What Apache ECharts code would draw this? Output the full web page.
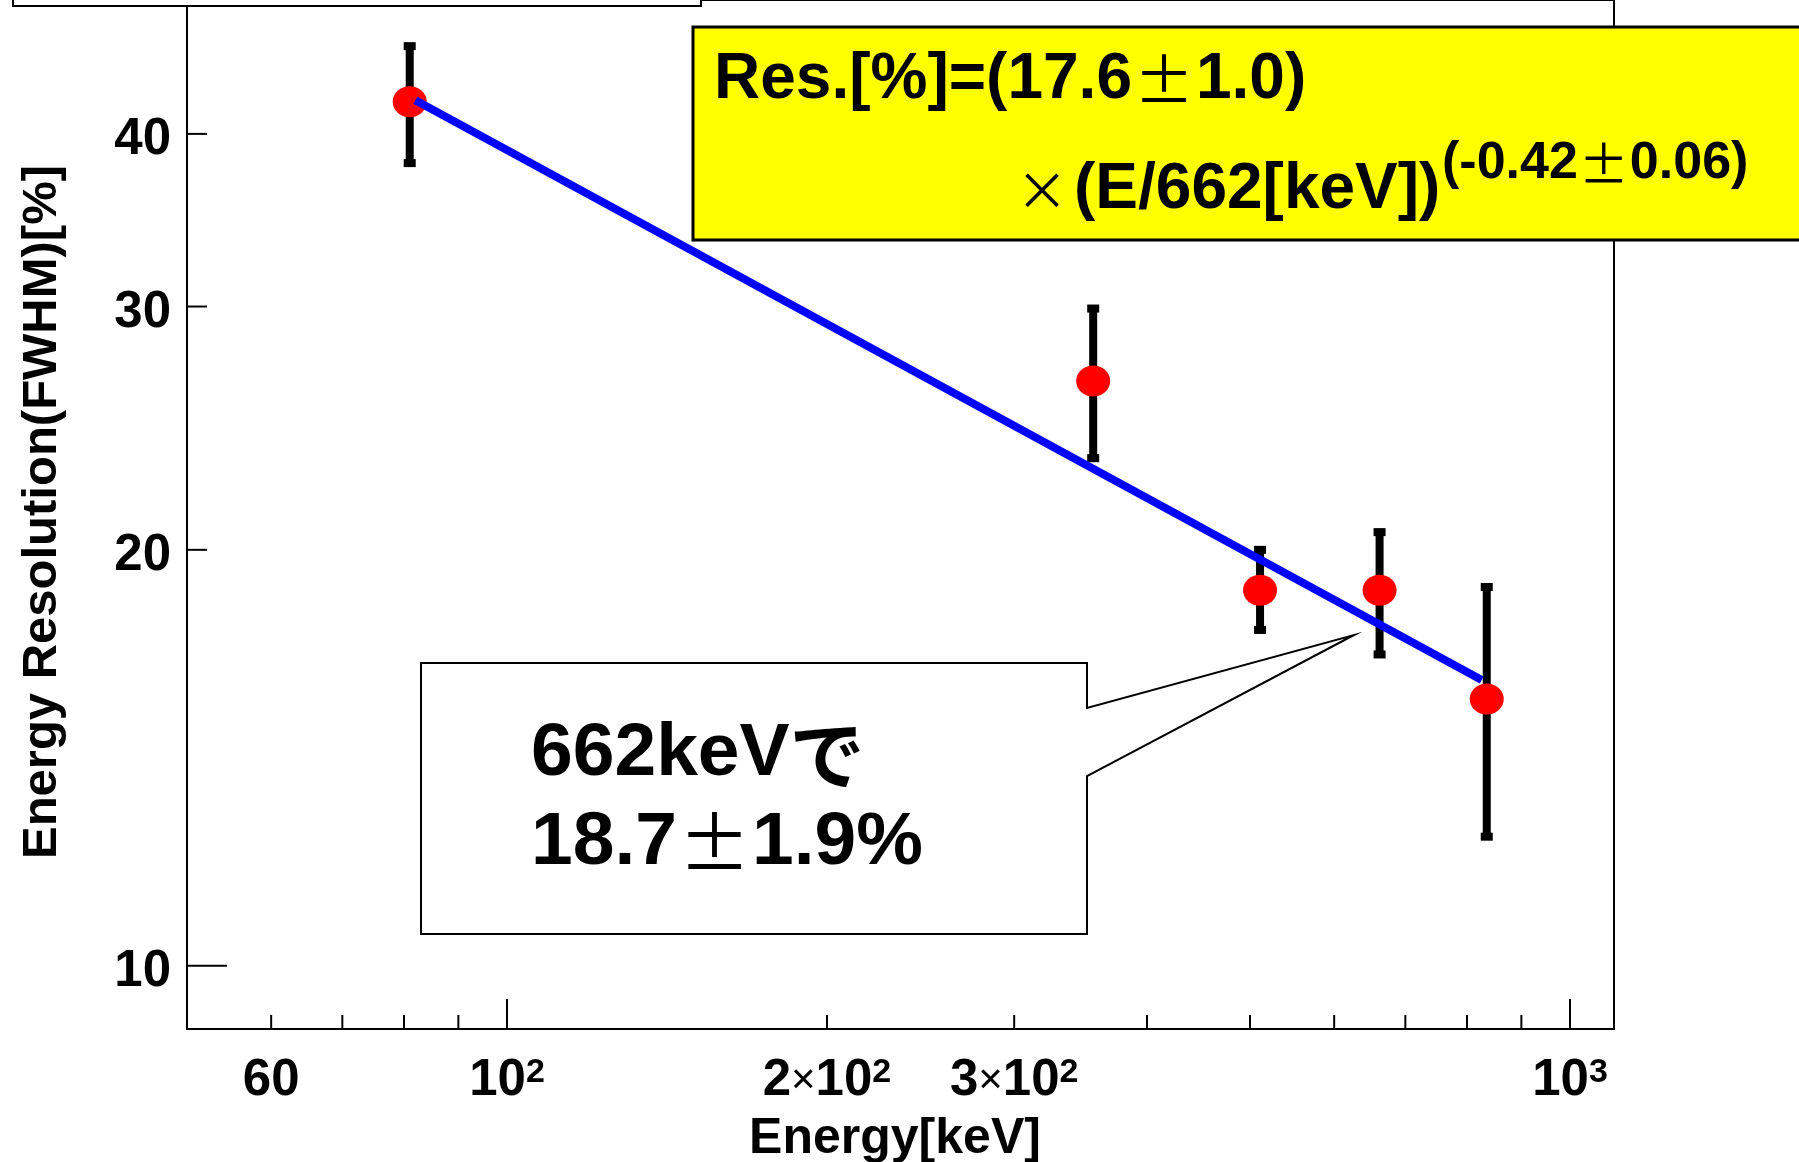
<!DOCTYPE html>
<html>
<head>
<meta charset="utf-8">
<title>Energy Resolution vs Energy</title>
<script src="https://cdn.jsdelivr.net/npm/echarts@6/dist/echarts.min.js"></script>
<style>
  html, body { margin: 0; padding: 0; background: #ffffff; }
  #chart { width: 1799px; height: 1162px; }
</style>
</head>
<body>
<div id="chart"></div>
<script>
// Measured energy resolution (FWHM) at each gamma line, with error bar ends
const energies   = [81, 356, 511, 662, 835];
const resolution = [42.2, 26.5, 18.7, 18.7, 15.6];
const errLow     = [38.1, 23.3, 17.5, 16.8, 12.4];
const errHigh    = [46.3, 29.9, 20.0, 20.6, 18.8];

// Power-law fit, drawn as a straight segment on log-log axes
const fitEnergy     = [82, 826];
const fitResolution = [42.3, 16.1];

// Axis ranges and ticks
const xRange = [50, 1100];
const yRange = [9, 50];
const xMajorTicks = [100, 1000];
const xMinorTicks = [60, 70, 80, 90, 200, 300, 400, 500, 600, 700, 800, 900];
const xLabelValues = [60, 100, 200, 300, 1000];
const xLabelTexts = ['{b|60}', '{b|10}{s|2}', '{b|2}{x|×}{b|10}{s|2}', '{b|3}{x|×}{b|10}{s|2}', '{b|10}{s|3}'];
const yMajorTicks = [10];
const yMinorTicks = [20, 30, 40];
const yLabelValues = [10, 20, 30, 40];
const yLabelTexts = ['10', '20', '30', '40'];

const FONT = "'Liberation Sans', Arial, Helvetica, sans-serif";
const CJK = "'Noto Sans CJK JP', 'Noto Sans CJK SC', sans-serif";

const chart = echarts.init(document.getElementById('chart'), null, { renderer: 'canvas' });

function xTick(len) {
  return function (params, api) {
    const p = api.coord([api.value(0), yRange[0]]);
    return { type: 'line', shape: { x1: p[0], y1: p[1], x2: p[0], y2: p[1] - len },
             style: { stroke: '#000', lineWidth: 2 } };
  };
}
function yTick(len) {
  return function (params, api) {
    const p = api.coord([xRange[0], api.value(1)]);
    return { type: 'line', shape: { x1: p[0], y1: p[1], x2: p[0] + len, y2: p[1] },
             style: { stroke: '#000', lineWidth: 2 } };
  };
}

const tickRich = {
  b: { fontFamily: FONT, fontWeight: 'bold', fontSize: 51, lineHeight: 51, fill: '#000' },
  s: { fontFamily: FONT, fontWeight: 'bold', fontSize: 34, lineHeight: 18, verticalAlign: 'top', fill: '#000' },
  x: { fontFamily: FONT, fontWeight: 'normal', fontSize: 42, lineHeight: 51, fill: '#000' }
};

// thin-stroked symbols (± and ×) set in a full-width cell
function symRich(size, glyph) {
  return { fontFamily: CJK, fontWeight: 'normal', fontSize: glyph, width: size, align: 'center', fill: '#000' };
}

const option = {
  backgroundColor: '#ffffff',
  animation: false,
  grid: { left: 187, right: 185, top: -5, bottom: 133, show: true,
          borderColor: '#000', borderWidth: 2, backgroundColor: 'transparent' },
  xAxis: { type: 'log', logBase: 10, min: xRange[0], max: xRange[1],
           axisLine: { show: false }, axisTick: { show: false },
           axisLabel: { show: false }, splitLine: { show: false } },
  yAxis: { type: 'log', logBase: 10, min: yRange[0], max: yRange[1],
           axisLine: { show: false }, axisTick: { show: false },
           axisLabel: { show: false }, splitLine: { show: false } },
  series: [
    { type: 'custom', name: 'xMajor', silent: true, z: 1,
      data: xMajorTicks.map(v => [v, yRange[0]]), renderItem: xTick(30) },
    { type: 'custom', name: 'xMinor', silent: true, z: 1,
      data: xMinorTicks.map(v => [v, yRange[0]]), renderItem: xTick(14) },
    { type: 'custom', name: 'yMajor', silent: true, z: 1,
      data: yMajorTicks.map(v => [xRange[0], v]), renderItem: yTick(40) },
    { type: 'custom', name: 'yMinor', silent: true, z: 1,
      data: yMinorTicks.map(v => [xRange[0], v]), renderItem: yTick(20) },
    { type: 'custom', name: 'xLabels', silent: true, z: 1,
      data: xLabelValues.map(v => [v, yRange[0]]),
      renderItem: function (params, api) {
        const p = api.coord([api.value(0), yRange[0]]);
        return { type: 'text', x: p[0], y: p[1] + 52,
                 style: { text: xLabelTexts[params.dataIndex], rich: tickRich,
                          align: 'center', verticalAlign: 'middle', fill: '#000' } };
      } },
    { type: 'custom', name: 'yLabels', silent: true, z: 1,
      data: yLabelValues.map(v => [xRange[0], v]),
      renderItem: function (params, api) {
        const p = api.coord([xRange[0], api.value(1)]);
        return { type: 'text', x: p[0] - 16, y: p[1] + 6,
                 style: { text: yLabelTexts[params.dataIndex],
                          font: 'bold 51px ' + FONT,
                          align: 'right', verticalAlign: 'middle', fill: '#000' } };
      } },
    { type: 'custom', name: 'errors', silent: true, z: 2,
      data: energies.map((e, i) => [e, errLow[i], errHigh[i]]),
      encode: { x: 0, y: [1, 2] },
      renderItem: function (params, api) {
        const top = api.coord([api.value(0), api.value(2)]);
        const bot = api.coord([api.value(0), api.value(1)]);
        const w = 8, cw = 12, ch = 8;
        return { type: 'group', children: [
          { type: 'rect', shape: { x: top[0] - w / 2, y: top[1], width: w, height: bot[1] - top[1] },
            style: { fill: '#000' } },
          { type: 'rect', shape: { x: top[0] - cw / 2, y: top[1] - ch / 2, width: cw, height: ch },
            style: { fill: '#000' } },
          { type: 'rect', shape: { x: bot[0] - cw / 2, y: bot[1] - ch / 2, width: cw, height: ch },
            style: { fill: '#000' } }
        ] };
      } },
    { type: 'scatter', name: 'data', z: 3, symbol: 'circle', symbolSize: [34, 31],
      itemStyle: { color: '#ff0000', opacity: 1 },
      data: energies.map((e, i) => [e, resolution[i]]) },
    { type: 'line', name: 'fit', z: 4, showSymbol: false, symbol: 'none',
      lineStyle: { color: '#0000ff', width: 8, opacity: 1 },
      data: fitEnergy.map((e, i) => [e, fitResolution[i]]) }
  ],
  graphic: [
    // box at the top-left, cut by the upper edge
    { type: 'rect', z: 100, shape: { x: 13, y: -10, width: 688, height: 16 },
      style: { fill: '#fff', stroke: '#000', lineWidth: 2 } },
    // fit formula panel
    { type: 'rect', z: 100, shape: { x: 693, y: 27, width: 1130, height: 213 },
      style: { fill: '#ffff00', stroke: '#000', lineWidth: 3 } },
    { type: 'text', z: 101, x: 714, y: 80,
      style: { text: '{t|Res.[%]=(17.6}{pm|±}{t|1.0)}', verticalAlign: 'middle', align: 'left',
               rich: { t: { fontFamily: FONT, fontWeight: 'bold', fontSize: 64, fill: '#000' },
                       pm: symRich(64, 60) } } },
    { type: 'text', z: 101, x: 1010, y: 190,
      style: { text: '{pm|×}{t|(E/662[keV])}', verticalAlign: 'middle', align: 'left',
               rich: { t: { fontFamily: FONT, fontWeight: 'bold', fontSize: 64, fill: '#000' },
                       pm: symRich(64, 52) } } },
    { type: 'text', z: 101, x: 1442, y: 164,
      style: { text: '{t|(-0.42}{pm|±}{t|0.06)}', verticalAlign: 'middle', align: 'left',
               rich: { t: { fontFamily: FONT, fontWeight: 'bold', fontSize: 52, fill: '#000' },
                       pm: symRich(52, 50) } } },
    // callout for the 662 keV point
    { type: 'polygon', z: 100,
      shape: { points: [[421, 663], [1087, 663], [1087, 708], [1354, 635], [1087, 776], [1087, 934], [421, 934]] },
      style: { fill: '#fff', stroke: '#000', lineWidth: 2 } },
    { type: 'text', z: 101, x: 531, y: 754,
      style: { text: '{t|662keV}{j|で}', verticalAlign: 'middle', align: 'left',
               rich: { t: { fontFamily: FONT, fontWeight: 'bold', fontSize: 75, fill: '#000' },
                       j: { fontFamily: CJK, fontWeight: 'bold', fontSize: 75, fill: '#000' } } } },
    { type: 'text', z: 101, x: 531, y: 843,
      style: { text: '{t|18.7}{pm|±}{t|1.9%}', verticalAlign: 'middle', align: 'left',
               rich: { t: { fontFamily: FONT, fontWeight: 'bold', fontSize: 75, fill: '#000' },
                       pm: symRich(75, 72) } } },
    // axis titles
    { type: 'text', z: 101, x: 42, y: 512, rotation: Math.PI / 2,
      style: { text: 'Energy Resolution(FWHM)[%]', font: 'bold 49px ' + FONT,
               align: 'center', verticalAlign: 'middle', fill: '#000' } },
    { type: 'text', z: 101, x: 895, y: 1139,
      style: { text: 'Energy[keV]', font: 'bold 50px ' + FONT,
               align: 'center', verticalAlign: 'middle', fill: '#000' } }
  ]
};

chart.setOption(option);
</script>
</body>
</html>
